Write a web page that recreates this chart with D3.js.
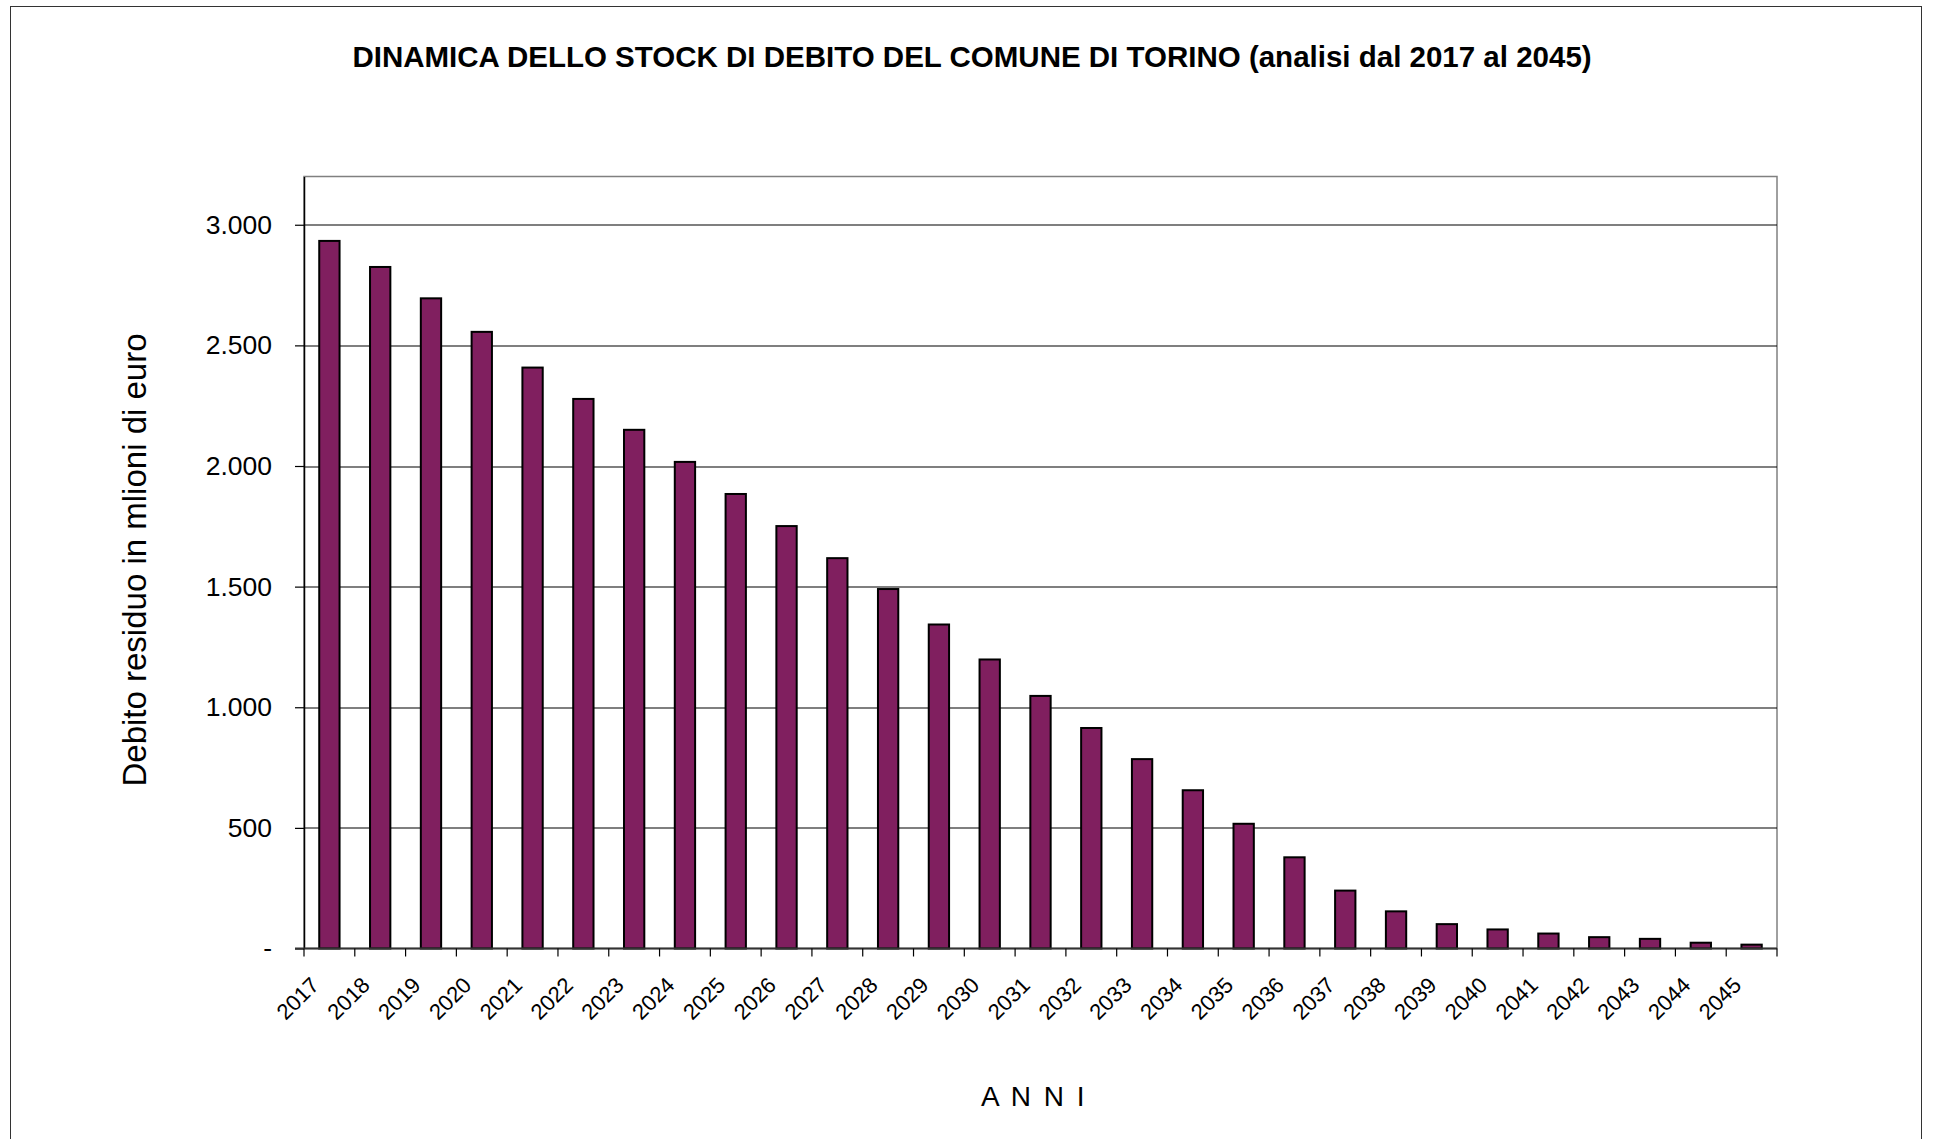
<!DOCTYPE html>
<html>
<head>
<meta charset="utf-8">
<script src="https://cdn.jsdelivr.net/npm/d3@7"></script>
<style>
  body { margin: 0; background: #fff; }
  text { font-family: "Liberation Sans", Arial, sans-serif; fill: #000; }
</style>
</head>
<body>
<svg id="vis" width="1936" height="1139"></svg>
<script>
// years on the x axis
var years = [2017, 2018, 2019, 2020, 2021, 2022, 2023, 2024, 2025, 2026,
  2027, 2028, 2029, 2030, 2031, 2032, 2033, 2034, 2035, 2036,
  2037, 2038, 2039, 2040, 2041, 2042, 2043, 2044, 2045];
// residual debt, millions of euro
var debito = [2933, 2825, 2695, 2556, 2408, 2278, 2150, 2017, 1884, 1751,
  1618, 1490, 1343, 1198, 1047, 914, 785, 656, 517, 378,
  240, 154, 101, 79, 62, 47, 40, 24, 16];
var yTicks = [0, 500, 1000, 1500, 2000, 2500, 3000];

var titolo = "DINAMICA DELLO STOCK DI DEBITO DEL COMUNE DI TORINO (analisi dal 2017 al 2045)";
var yTitolo = "Debito residuo in mlioni di euro";
var xTitolo = "A N N I";

var svg = d3.select("#vis");
var margin = { top: 176.5, right: 159, bottom: 190.5, left: 304 };
var width = 1936, height = 1139;
var plotW = width - margin.left - margin.right;
var plotH = height - margin.top - margin.bottom;

var it = d3.formatLocale({ decimal: ",", thousands: ".", grouping: [3], currency: ["€", ""] });
var fmt = it.format(",d");

var x = d3.scaleBand().domain(years).range([0, plotW]).paddingInner(0.6).paddingOuter(0.3);
var y = d3.scaleLinear().domain([0, 3200]).range([plotH, 0]);

// outer frame
svg.append("rect")
  .attr("x", 10.5).attr("y", 6.5)
  .attr("width", 1911).attr("height", 1150)
  .attr("fill", "#fff")
  .attr("stroke", "#333")
  .attr("stroke-width", 1);

svg.append("text")
  .text(titolo)
  .attr("x", 972)
  .attr("y", 67)
  .attr("text-anchor", "middle")
  .style("font-weight", "bold")
  .style("font-size", "29.5px");

var g = svg.append("g").attr("transform", `translate(${margin.left},${margin.top})`);

// plot border (top/right grey)
g.append("rect")
  .attr("x", 0).attr("y", 0)
  .attr("width", plotW).attr("height", plotH)
  .attr("fill", "none")
  .attr("stroke", "#808080")
  .attr("stroke-width", 1.5);

// gridlines
g.append("g")
  .selectAll("line")
  .data(yTicks.filter(d => d > 0))
  .enter()
  .append("line")
  .attr("x1", 0)
  .attr("x2", plotW)
  .attr("y1", d => Math.round(y(d)) + 0.5)
  .attr("y2", d => Math.round(y(d)) + 0.5)
  .style("stroke", "#000")
  .style("stroke-width", "1.2px");

// bars
g.append("g")
  .selectAll("rect")
  .data(debito)
  .enter()
  .append("rect")
  .attr("x", (d, i) => x(years[i]))
  .attr("y", d => y(d))
  .attr("width", x.bandwidth())
  .attr("height", d => plotH - y(d))
  .style("fill", "#801F5F")
  .style("stroke", "#000")
  .style("stroke-width", "2px");

// y axis
var yAxis = d3.axisLeft(y)
  .tickValues(yTicks)
  .tickSize(9)
  .tickSizeOuter(0)
  .tickPadding(23)
  .tickFormat(d => (d === 0 ? "-" : fmt(d)));

var ya = g.append("g").call(yAxis);
ya.select(".domain").attr("stroke", "#000").attr("stroke-width", 1.5);
ya.selectAll(".tick line").attr("stroke", "#000").attr("stroke-width", 1.2);
ya.selectAll("text")
  .style("font-size", "26.5px")
  .style("font-family", "Liberation Sans, Arial, sans-serif");

// x axis baseline
g.append("line")
  .attr("x1", -9).attr("x2", plotW)
  .attr("y1", plotH).attr("y2", plotH)
  .style("stroke", "#333")
  .style("stroke-width", "2px");

// x ticks between categories
var bounds = years.map(d => x(d) - x.step() * 0.3).concat([plotW]);
g.append("g")
  .selectAll("line")
  .data(bounds)
  .enter()
  .append("line")
  .attr("x1", d => d)
  .attr("x2", d => d)
  .attr("y1", plotH)
  .attr("y2", plotH + 8)
  .style("stroke", "#000")
  .style("stroke-width", "1.2px");

// x labels
g.append("g")
  .selectAll("text")
  .data(years)
  .enter()
  .append("text")
  .text(d => d)
  .attr("text-anchor", "end")
  .attr("transform", d => `translate(${x(d) + x.bandwidth() / 2 - 9},${plotH + 38}) rotate(-45)`)
  .style("font-size", "22px");

// axis titles
svg.append("text")
  .text(yTitolo)
  .attr("text-anchor", "middle")
  .attr("transform", "translate(146,560) rotate(-90)")
  .style("font-size", "33px");

svg.append("text")
  .text(xTitolo)
  .attr("x", 1034)
  .attr("y", 1106)
  .attr("text-anchor", "middle")
  .style("letter-spacing", "2.5px")
  .style("font-size", "28px");
</script>
</body>
</html>
